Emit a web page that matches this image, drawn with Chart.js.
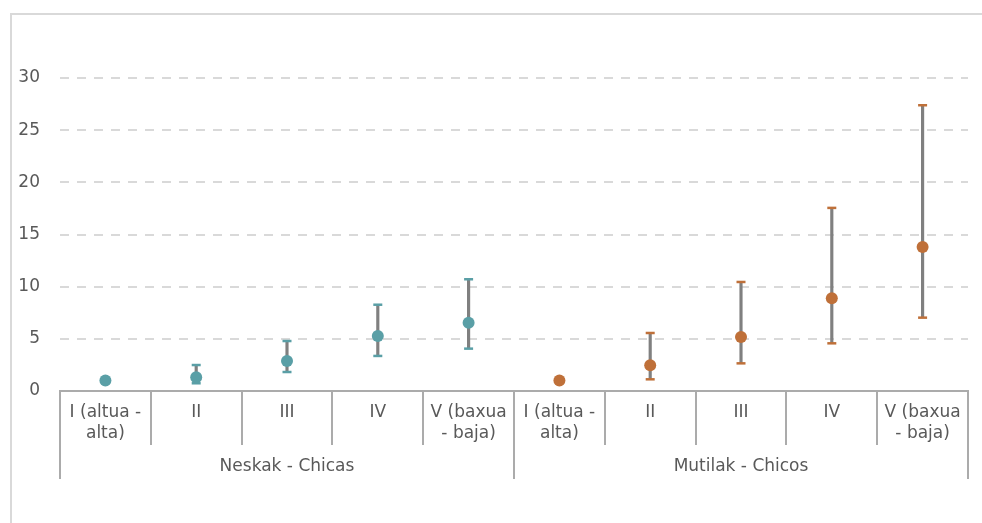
<!DOCTYPE html>
<html>
<head>
<meta charset="utf-8">
<script src="https://cdn.jsdelivr.net/npm/chart.js@4/dist/chart.umd.min.js"></script>
<style>
  html, body { margin: 0; padding: 0; background: #ffffff; }
  #wrap { position: relative; width: 982px; height: 523px; overflow: hidden; }
  #frame { position: absolute; left: 10px; top: 13px; width: 990px; height: 530px;
           border-top: 2px solid #d9d9d9; border-left: 2px solid #d9d9d9; box-sizing: border-box; }
  #c { position: absolute; left: 0; top: 0; }
</style>
</head>
<body>
<div id="wrap">
  <div id="frame"></div>
  <canvas id="c" width="982" height="523"></canvas>
</div>
<script>
// Social class categories (I = highest ... V = lowest) and the two sex groups
const categories = [['I (altua -', 'alta)'], 'II', 'III', 'IV', ['V (baxua', '- baja)']];
const groups = ['Neskak - Chicas', 'Mutilak - Chicos'];

// Ratio with 95% confidence interval, class I is the reference (1)
const chicas     = [1.00, 1.31, 2.88, 5.27, 6.55];
const chicasLow  = [null, 0.74, 1.82, 3.36, 4.06];
const chicasHigh = [null, 2.49, 4.79, 8.27, 10.71];

const chicos     = [1.00, 2.46, 5.18, 8.89, 13.80];
const chicosLow  = [null, 1.12, 2.65, 4.57, 7.03];
const chicosHigh = [null, 5.56, 10.45, 17.55, 27.39];

const yTicks = [0, 5, 10, 15, 20, 25, 30];

const TEAL = '#5a9fa6';
const ORANGE = '#bf7039';
const AXIS = '#ababab';
const TEXT = '#595959';
const FONT = { family: 'DejaVu Sans', size: 17, lineHeight: 1.18 };

const none = Array(categories.length).fill(null);
const labels = categories.concat(categories);
const left = arr => arr.concat(none);
const right = arr => none.concat(arr);
const ranges = (lo, hi) => lo.map((l, i) => (l == null ? null : [l, hi[i]]));

// Horizontal caps at both ends of each interval
function capSet(data, color) {
  return {
    type: 'line', data, showLine: false, order: 2,
    pointStyle: 'line', pointRadius: 4.5, pointBorderWidth: 2.5,
    pointBorderColor: color, pointBackgroundColor: color
  };
}
// Point estimate markers
function pointSet(data, color) {
  return {
    type: 'line', data, showLine: false, order: 1,
    pointStyle: 'circle', pointRadius: 6, pointBorderWidth: 0,
    pointBackgroundColor: color, pointBorderColor: color
  };
}

new Chart(document.getElementById('c'), {
  type: 'line',
  data: {
    labels,
    datasets: [
      {
        // interval whiskers as thin floating bars
        type: 'bar', order: 3,
        data: ranges(chicasLow, chicasHigh).concat(ranges(chicosLow, chicosHigh)),
        backgroundColor: '#808080', borderWidth: 0, barThickness: 2.5
      },
      capSet(left(chicasLow), TEAL),
      capSet(left(chicasHigh), TEAL),
      capSet(right(chicosLow), ORANGE),
      capSet(right(chicosHigh), ORANGE),
      pointSet(left(chicas), TEAL),
      pointSet(right(chicos), ORANGE)
    ]
  },
  options: {
    responsive: false,
    animation: false,
    events: [],
    layout: { padding: { top: 78, right: 14, left: 0, bottom: 0 } },
    plugins: { legend: { display: false }, tooltip: { enabled: false } },
    scales: {
      y: {
        min: 0, max: 30,
        afterBuildTicks: s => { s.ticks = yTicks.map(v => ({ value: v })); },
        afterFit: s => { s.width = 60; },
        grid: {
          drawTicks: false,
          color: ctx => (ctx.tick && ctx.tick.value === 0 ? 'rgba(0,0,0,0)' : '#d9d9d9'),
          lineWidth: 2
        },
        border: { display: false, dash: [9, 8] },
        ticks: { padding: 20, color: TEXT, font: FONT }
      },
      x: {
        offset: true,
        weight: 0,
        afterFit: s => { s.height = 54; },
        border: { display: true, color: AXIS, width: 2 },
        grid: { offset: true, drawOnChartArea: false, tickLength: 54, color: AXIS, lineWidth: 2 },
        ticks: { autoSkip: false, maxRotation: 0, minRotation: 0, padding: -42, color: TEXT, font: FONT }
      },
      x2: {
        type: 'category',
        labels: groups,
        position: 'bottom',
        offset: true,
        weight: 1,
        afterFit: s => { s.height = 78; },
        border: { display: false },
        grid: { offset: true, drawOnChartArea: false, tickLength: 34, color: AXIS, lineWidth: 2 },
        ticks: { autoSkip: false, maxRotation: 0, minRotation: 0, padding: -22, color: TEXT, font: FONT }
      }
    }
  }
});
</script>
</body>
</html>
